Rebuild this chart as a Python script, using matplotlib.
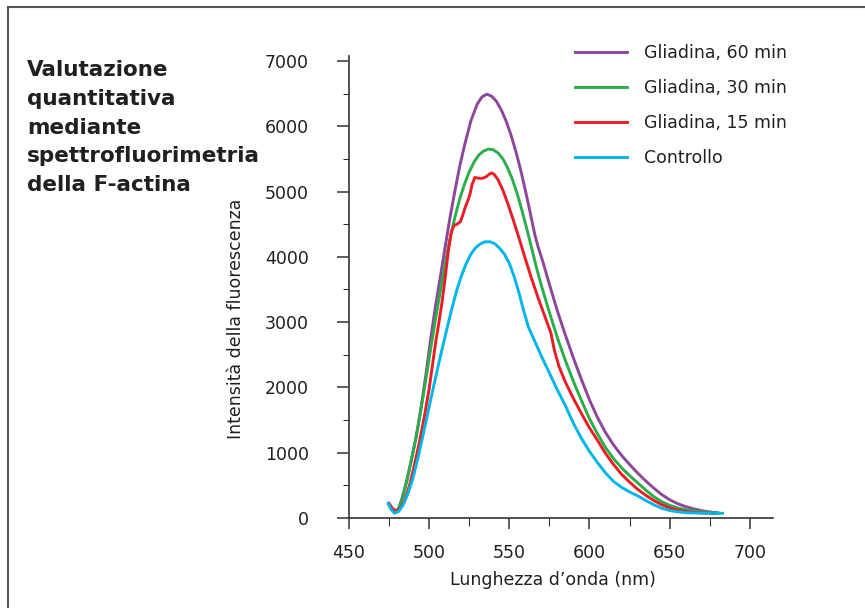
import numpy as np
import matplotlib.pyplot as plt
from matplotlib.lines import Line2D

# spectra (wavelength nm, intensity)
wl_60 = [475, 477, 479, 481, 483, 486, 489, 492, 495, 498, 501, 504, 507, 510, 513, 516,
         519, 522, 526, 530, 533, 536, 539, 542, 545, 548, 551, 554, 557, 560, 563, 566,
         568, 571, 575, 580, 585, 590, 595, 600, 605, 610, 615, 620, 625, 630, 635, 640,
         645, 650, 655, 660, 665, 670, 675, 680]
int_60 = [200, 135, 105, 150, 290, 570, 900, 1260, 1700, 2200, 2750, 3250, 3700, 4150, 4600, 5000,
          5380, 5700, 6080, 6340, 6450, 6490, 6460, 6380, 6250, 6080, 5870, 5620, 5340, 5020, 4680, 4330,
          4150, 3920, 3580, 3170, 2800, 2450, 2120, 1810, 1540, 1310, 1120, 960, 820, 690, 570, 460,
          360, 280, 220, 175, 140, 112, 92, 80]

wl_30 = [475, 477, 479, 481, 483, 486, 489, 492, 495, 498, 501, 504, 507, 510, 513, 516,
         519, 522, 525, 528, 531, 534, 537, 540, 543, 546, 549, 552, 555, 558, 561, 564,
         567, 570, 575, 580, 585, 590, 595, 600, 605, 610, 615, 620, 625, 630, 635, 640,
         645, 650, 655, 660, 665, 670, 675, 680]
int_30 = [200, 130, 95, 145, 280, 560, 900, 1250, 1680, 2130, 2600, 3050, 3480, 3900, 4270, 4600,
          4880, 5110, 5300, 5450, 5560, 5620, 5650, 5640, 5590, 5500, 5360, 5180, 4960, 4700, 4420, 4130,
          3830, 3560, 3150, 2760, 2410, 2090, 1800, 1520, 1290, 1080, 910, 770, 650, 540, 430, 330,
          250, 195, 155, 128, 110, 95, 85, 75]

wl_15 = [475, 477, 479.5, 482, 485, 488, 491, 494, 497, 500, 502, 504, 506, 508, 510, 512,
         513.8, 515.5, 517.5, 519.5, 521, 522.5, 524, 525.5, 526.8, 528.5, 530.5, 533, 535.5, 537.5, 539, 540.5,
         543, 546, 549, 552, 555, 558, 561, 564, 568, 572, 576, 578, 581, 585, 590, 595,
         600, 605, 610, 615, 620, 625, 630, 635, 640, 645, 650, 655, 660, 668, 678]
int_15 = [225, 150, 100, 145, 290, 520, 830, 1170, 1550, 1980, 2330, 2680, 2980, 3300, 3680, 4100,
          4380, 4480, 4500, 4540, 4640, 4760, 4850, 4960, 5110, 5215, 5205, 5200, 5225, 5265, 5285, 5265,
          5180, 5020, 4820, 4600, 4370, 4130, 3890, 3660, 3370, 3100, 2830, 2580, 2320, 2080, 1830, 1600,
          1380, 1190, 990, 820, 670, 550, 440, 350, 270, 205, 155, 122, 100, 82, 70]

wl_ctrl = [474.5, 476, 478.3, 481, 484, 487, 490, 493, 496, 499, 502, 505, 508, 511, 514, 517,
           520, 523, 526, 529, 532, 535, 538, 541, 544, 547, 550, 553, 556, 559, 562, 566,
           570, 575, 580, 585, 590, 595, 600, 605, 610, 615, 620, 625, 630, 635, 640, 645,
           650, 655, 660, 670, 683]
int_ctrl = [225, 140, 75, 100, 210, 390, 620, 920, 1250, 1590, 1930, 2260, 2580, 2890, 3190, 3470,
            3700, 3890, 4040, 4140, 4200, 4230, 4230, 4200, 4130, 4040, 3900, 3700, 3450, 3170, 2920, 2700,
            2480, 2220, 1960, 1720, 1450, 1220, 1020, 850, 690, 560, 470, 400, 340, 270, 205, 150,
            115, 95, 82, 75, 72]

labels = ['Gliadina, 60 min', 'Gliadina, 30 min', 'Gliadina, 15 min', 'Controllo']
colors = ['#8C479C', '#2AAE4A', '#EC1C26', '#00B5E8']

x_ticks = [450, 500, 550, 600, 650, 700]
y_ticks = [0, 1000, 2000, 3000, 4000, 5000, 6000, 7000]

plt.rcParams['font.family'] = 'DejaVu Sans'
txt = '#231f20'

fig = plt.figure(figsize=(8.65, 6.08), dpi=100)
ax = fig.add_axes([349/865, 1-518/608, (773-349)/865, (518-55.7)/608])

series = [(wl_60, int_60), (wl_30, int_30), (wl_15, int_15), (wl_ctrl, int_ctrl)]
for (x, y), lab, c in zip(series, labels, colors):
    ax.plot(x, y, color=c, lw=2.1, label=lab, solid_joinstyle='round')

ax.set_xlim(450, 714.5)
ax.set_ylim(0, 7080)
ax.set_xticks(x_ticks)
ax.set_xticks(np.arange(475, 725, 50), minor=True)
ax.set_yticks(y_ticks)
ax.set_yticks(np.arange(500, 7000, 1000), minor=True)

for s in ['top', 'right']:
    ax.spines[s].set_visible(False)
for s in ['left', 'bottom']:
    ax.spines[s].set_color('#333333')
    ax.spines[s].set_linewidth(1.2)

ax.tick_params(axis='both', colors='#333333', labelcolor=txt, labelsize=12.5, width=1.1)
ax.tick_params(axis='y', which='major', length=9, pad=20)
ax.tick_params(axis='y', which='minor', length=4)
ax.tick_params(axis='x', which='major', length=8, pad=11)
ax.tick_params(axis='x', which='minor', length=6)

ax.set_xlabel('Lunghezza d\u2019onda (nm)', fontsize=12.5, color=txt)
ax.set_ylabel('Intensità della fluorescenza', fontsize=12.5, color=txt)
ax.xaxis.set_label_coords(0.48, -0.115)
ax.yaxis.set_label_coords(-0.245, 0.43)

ax.legend(loc='upper left', bbox_to_anchor=(575/865, 1-44/608), bbox_transform=fig.transFigure,
          frameon=False, borderpad=0, borderaxespad=0, handlelength=3.0, handletextpad=1.0,
          labelspacing=0.98, fontsize=12.5, labelcolor=txt)

fig.text(27/865, 1-60/608, 'Valutazione\nquantitativa\nmediante\nspettrofluorimetria\ndella F-actina',
         fontsize=15.5, fontweight='bold', color=txt, va='top', ha='left', linespacing=1.55)

# frame lines
fig.add_artist(Line2D([8/865, 8/865], [0, 1-7/608], transform=fig.transFigure, color='#555555', lw=1.5))
fig.add_artist(Line2D([8/865, 1], [1-7/608, 1-7/608], transform=fig.transFigure, color='#555555', lw=1.5))

fig.savefig('out.png', dpi=100)
